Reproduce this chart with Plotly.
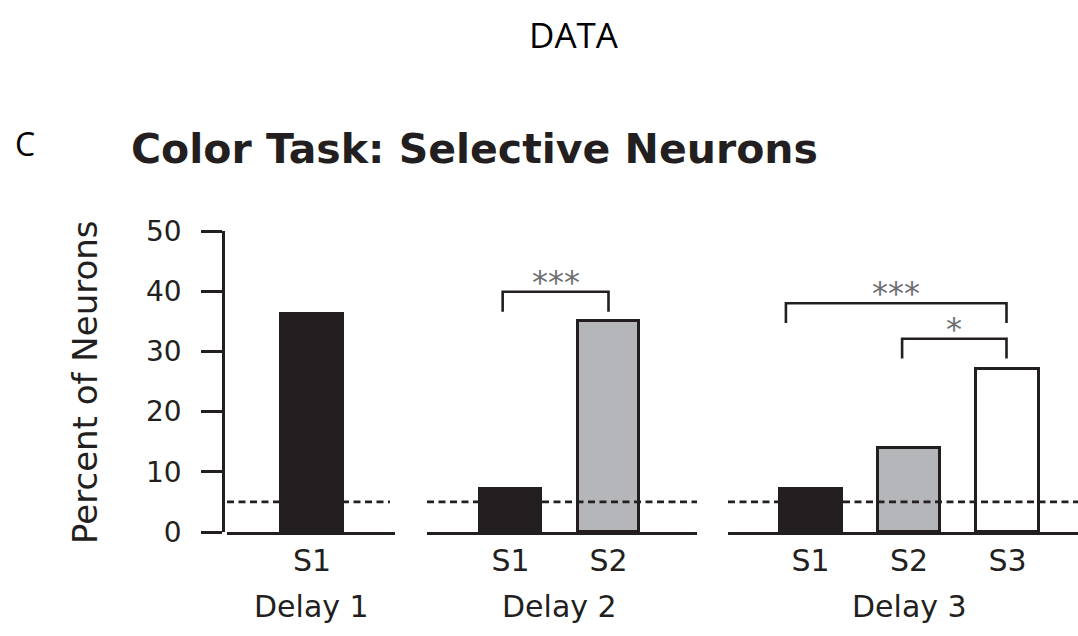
import plotly.graph_objects as go

W, H = 1078, 636
MARGIN_T, MARGIN_B = 231, 104
INK = "#231f20"

# ---- data -------------------------------------------------------------
delays = ["Delay 1", "Delay 2", "Delay 3"]
stimuli = [["S1"], ["S1", "S2"], ["S1", "S2", "S3"]]
percent = [[36.2], [7.1, 35.0], [7.1, 14.0, 27.1]]
chance_level = 5
y_ticks = [0, 10, 20, 30, 40, 50]
stim_fill = {"S1": "#231f20", "S2": "#b5b6b9", "S3": "#ffffff"}

# significance brackets (delay panel, left end, right end, bracket height, label)
bracket_delay = [1, 2, 2]
bracket_left = [-0.08, -0.25, 0.93]
bracket_right = [1.0, 1.99, 1.99]
bracket_top = [39.9, 38.0, 32.1]
bracket_label = ["***", "***", "*"]
bracket_drop = 3.3

# ---- panel geometry (pixels) -----------------------------------------
panel_px = [(227, 395), (427, 697), (728, 1078)]
panel_range = [(-0.867, 0.847), (-0.852, 1.903), (-0.838, 2.716)]
yaxis_px = 223


def px_x(x):
    return x / W


def px_y(y):
    plot_h = H - MARGIN_T - MARGIN_B
    return (H - MARGIN_B - y) / plot_h


def axis_name(i):
    return "x" if i == 0 else f"x{i + 1}"


fig = go.Figure()
layout_axes = {}
shapes = []
annotations = []

for i, (delay, stims, vals) in enumerate(zip(delays, stimuli, percent)):
    xa = axis_name(i)
    pos = list(range(len(stims)))
    fig.add_trace(go.Bar(
        x=pos, y=vals, xaxis=xa, yaxis="y", width=0.63,
        marker=dict(color=[stim_fill[s] for s in stims],
                    line=dict(color=INK, width=3)),
        showlegend=False, hoverinfo="skip",
    ))
    key = "xaxis" if i == 0 else f"xaxis{i + 1}"
    layout_axes[key] = dict(
        domain=[px_x(panel_px[i][0]), px_x(panel_px[i][1])],
        range=list(panel_range[i]),
        anchor="y",
        tickmode="array", tickvals=pos, ticktext=stims,
        ticks="", ticklabelstandoff=0,
        tickfont=dict(family="DejaVu Sans", size=30, color=INK),
        showline=True, linewidth=2.6, linecolor=INK,
        showgrid=False, zeroline=False, fixedrange=True,
    )
    # chance level
    shapes.append(dict(
        type="line", xref=f"{xa} domain", x0=0, x1=1 if i else 0.97,
        yref="y", y0=chance_level, y1=chance_level,
        line=dict(color=INK, width=2.6, dash="7px,4.5px"), layer="above",
    ))
    annotations.append(dict(
        text=delay, xref=xa, x=(len(stims) - 1) / 2, yref="paper", y=px_y(606),
        xanchor="center", yanchor="middle", showarrow=False,
        font=dict(family="DejaVu Sans", size=30, color=INK),
    ))

for d, l, r, top, lab in zip(bracket_delay, bracket_left, bracket_right,
                             bracket_top, bracket_label):
    xa = axis_name(d)
    fig.add_trace(go.Scatter(
        x=[l, l, r, r], y=[top - bracket_drop, top, top, top - bracket_drop],
        xaxis=xa, yaxis="y", mode="lines",
        line=dict(color=INK, width=2.6), showlegend=False, hoverinfo="skip",
    ))
    annotations.append(dict(
        text=lab, xref=xa, x=(l + r) / 2, yref="y", y=top - 1.8,
        xanchor="center", yanchor="bottom", showarrow=False,
        font=dict(family="DejaVu Sans", size=32, color="#6d6e71"),
    ))

# text outside the axes
annotations += [
    dict(text="DATA", x=px_x(574), y=px_y(34), xref="paper", yref="paper",
         xanchor="center", yanchor="middle", showarrow=False,
         font=dict(family="Open Sans", size=35, color="#000000")),
    dict(text="C", x=px_x(13), y=px_y(143), xref="paper", yref="paper",
         xanchor="left", yanchor="middle", showarrow=False,
         font=dict(family="Open Sans", size=32, color="#000000")),
    dict(text="<b>Color Task: Selective Neurons</b>", x=px_x(129), y=px_y(149),
         xref="paper", yref="paper", xanchor="left", yanchor="middle",
         showarrow=False, font=dict(family="DejaVu Sans", size=41, color=INK)),
    dict(text="Percent of Neurons", x=px_x(85), y=px_y(382), xref="paper",
         yref="paper", xanchor="center", yanchor="middle", textangle=-90,
         showarrow=False, font=dict(family="DejaVu Sans", size=34, color=INK)),
]

fig.update_layout(
    width=W, height=H,
    margin=dict(l=0, r=0, t=MARGIN_T, b=MARGIN_B, pad=0),
    paper_bgcolor="#ffffff", plot_bgcolor="rgba(0,0,0,0)",
    bargap=0, showlegend=False,
    yaxis=dict(
        range=[0, 50], domain=[0, 1], anchor="free", position=px_x(yaxis_px),
        tickmode="array", tickvals=y_ticks,
        ticks="outside", ticklen=21, tickwidth=2.6, tickcolor=INK,
        ticklabelstandoff=14,
        tickfont=dict(family="DejaVu Sans", size=28, color=INK),
        showline=True, linewidth=2.6, linecolor=INK,
        showgrid=False, zeroline=False, fixedrange=True,
    ),
    shapes=shapes, annotations=annotations,
    **layout_axes,
)

fig.write_html("out.html")
